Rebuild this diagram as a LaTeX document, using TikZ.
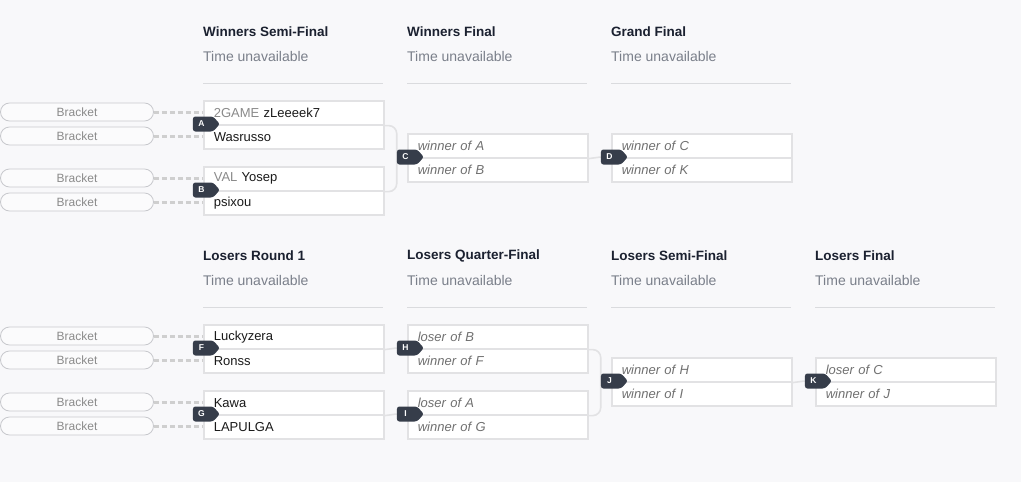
\documentclass[tikz,border=0pt]{standalone}
\usepackage{fontspec}
\setmainfont{Liberation Sans}
\usetikzlibrary{shapes.symbols,backgrounds}
\definecolor{bgc}{HTML}{F8F8FA}
\definecolor{headc}{HTML}{1B2130}
\definecolor{timec}{HTML}{7A7F8A}
\definecolor{sepc}{HTML}{DADBDE}
\definecolor{namec}{HTML}{1A1A1A}
\definecolor{prefc}{HTML}{8A8A8A}
\definecolor{itc}{HTML}{707070}
\definecolor{boxc}{HTML}{E2E2E4}
\definecolor{badgec}{HTML}{363D4A}
\definecolor{pillc}{HTML}{C8C9CD}
\definecolor{pilltc}{HTML}{8B8B8B}
\definecolor{feedc}{HTML}{CFCFCF}
\newcommand\matchbox[5]{%
  \node[row] (#1t) at (#2,#3) {#4};
  \node[row] (#1b) at (#2,#3+24) {#5};
  \node[badge] (#1g) at (#2,#3+24) {\hspace*{-3pt}#1};
}
\newcommand\colhead[4]{%
  \node[head] (#1h) at (#2,#3) {#4};
  \node[timetxt] (#1s) at (#2,#3+24) {Time unavailable};
  \draw[sepline] (#2,#3+51) -- (#2+180,#3+51);
}
\begin{document}
\begin{tikzpicture}[x=1pt,y=-1pt,
  row/.style={draw=boxc, line width=1.6pt, fill=white, minimum width=180pt,
    minimum height=24pt, text width=160pt, inner xsep=10pt, inner ysep=0pt,
    align=left, anchor=north west, text=namec, font=\fontsize{13}{15}\selectfont},
  badge/.style={signal, signal to=east, signal pointer angle=95, fill=badgec,
    text=white, font=\fontsize{8.5}{10}\bfseries, minimum width=27pt,
    minimum height=15pt, inner sep=0pt, rounded corners=2.5pt, anchor=center},
  pill/.style={draw=pillc, line width=0.8pt, fill=white!40!bgc, rounded corners=9pt,
    minimum width=153pt, minimum height=18pt, inner sep=0pt, text=pilltc,
    font=\fontsize{12}{14}\selectfont},
  feed/.style={draw=feedc, line width=3pt, dash pattern=on 5pt off 3pt},
  conn/.style={draw=boxc, line width=1.6pt, rounded corners=8pt},
  head/.style={anchor=west, inner sep=0pt, text=headc, font=\fontsize{13.5}{16}\bfseries},
  timetxt/.style={anchor=west, inner sep=0pt, text=timec, font=\fontsize{14}{16}\selectfont},
  sepline/.style={draw=sepc, line width=1pt}]
\begin{scope}[on background layer]
  \fill[bgc] (0,0) rectangle (1021,482);
\end{scope}
\useasboundingbox (0,0) rectangle (1021,482);

% headers
\colhead{wsf}{203}{32}{Winners Semi-Final}
\colhead{wf}{407}{32}{Winners Final}
\colhead{gf}{611}{32}{Grand Final}
\colhead{lr}{203}{256}{Losers Round 1}
\colhead{lqf}{407}{256}{Losers Quarter-Final}
\colhead{lsf}{611}{256}{Losers Semi-Final}
\colhead{lf}{815}{256}{Losers Final}

% pills
\node[pill] (p1) at (77,112) {Bracket};
\node[pill] (p2) at (77,136) {Bracket};
\node[pill] (p3) at (77,178) {Bracket};
\node[pill] (p4) at (77,202) {Bracket};
\node[pill] (p5) at (77,336) {Bracket};
\node[pill] (p6) at (77,360) {Bracket};
\node[pill] (p7) at (77,402) {Bracket};
\node[pill] (p8) at (77,426) {Bracket};

% matches
\newcommand\itx[1]{{\color{itc}\itshape #1}}
\matchbox{A}{203}{100}{{\color{prefc}2GAME} zLeeeek7}{Wasrusso}
\matchbox{B}{203}{166}{{\color{prefc}VAL} Yosep}{psixou}
\matchbox{C}{407}{133}{\itx{winner of A}}{\itx{winner of B}}
\matchbox{D}{611}{133}{\itx{winner of C}}{\itx{winner of K}}
\matchbox{F}{203}{324}{Luckyzera}{Ronss}
\matchbox{G}{203}{390}{Kawa}{LAPULGA}
\matchbox{H}{407}{324}{\itx{loser of B}}{\itx{winner of F}}
\matchbox{I}{407}{390}{\itx{loser of A}}{\itx{winner of G}}
\matchbox{J}{611}{357}{\itx{winner of H}}{\itx{winner of I}}
\matchbox{K}{815}{357}{\itx{loser of C}}{\itx{winner of J}}

\begin{scope}[on background layer]
  % feeds
  \draw[feed] (p1.east) -- (p1.east -| At.west);
  \draw[feed] (p2.east) -- (p2.east -| Ab.west);
  \draw[feed] (p3.east) -- (p3.east -| Bt.west);
  \draw[feed] (p4.east) -- (p4.east -| Bb.west);
  \draw[feed] (p5.east) -- (p5.east -| Ft.west);
  \draw[feed] (p6.east) -- (p6.east -| Fb.west);
  \draw[feed] (p7.east) -- (p7.east -| Gt.west);
  \draw[feed] (p8.east) -- (p8.east -| Gb.west);
  % connectors
  \draw[conn] (At.south east) -| (Cg.west) |- (Bt.south east);
  \draw[conn] (Ct.south east) -- (Dg.west);
  \draw[conn] (Ft.south east) -- (Hg.west);
  \draw[conn] (Gt.south east) -- (Ig.west);
  \draw[conn] (Ht.south east) -| (Jg.west) |- (It.south east);
  \draw[conn] (Jt.south east) -- (Kg.west);
\end{scope}
\end{tikzpicture}
\end{document}
